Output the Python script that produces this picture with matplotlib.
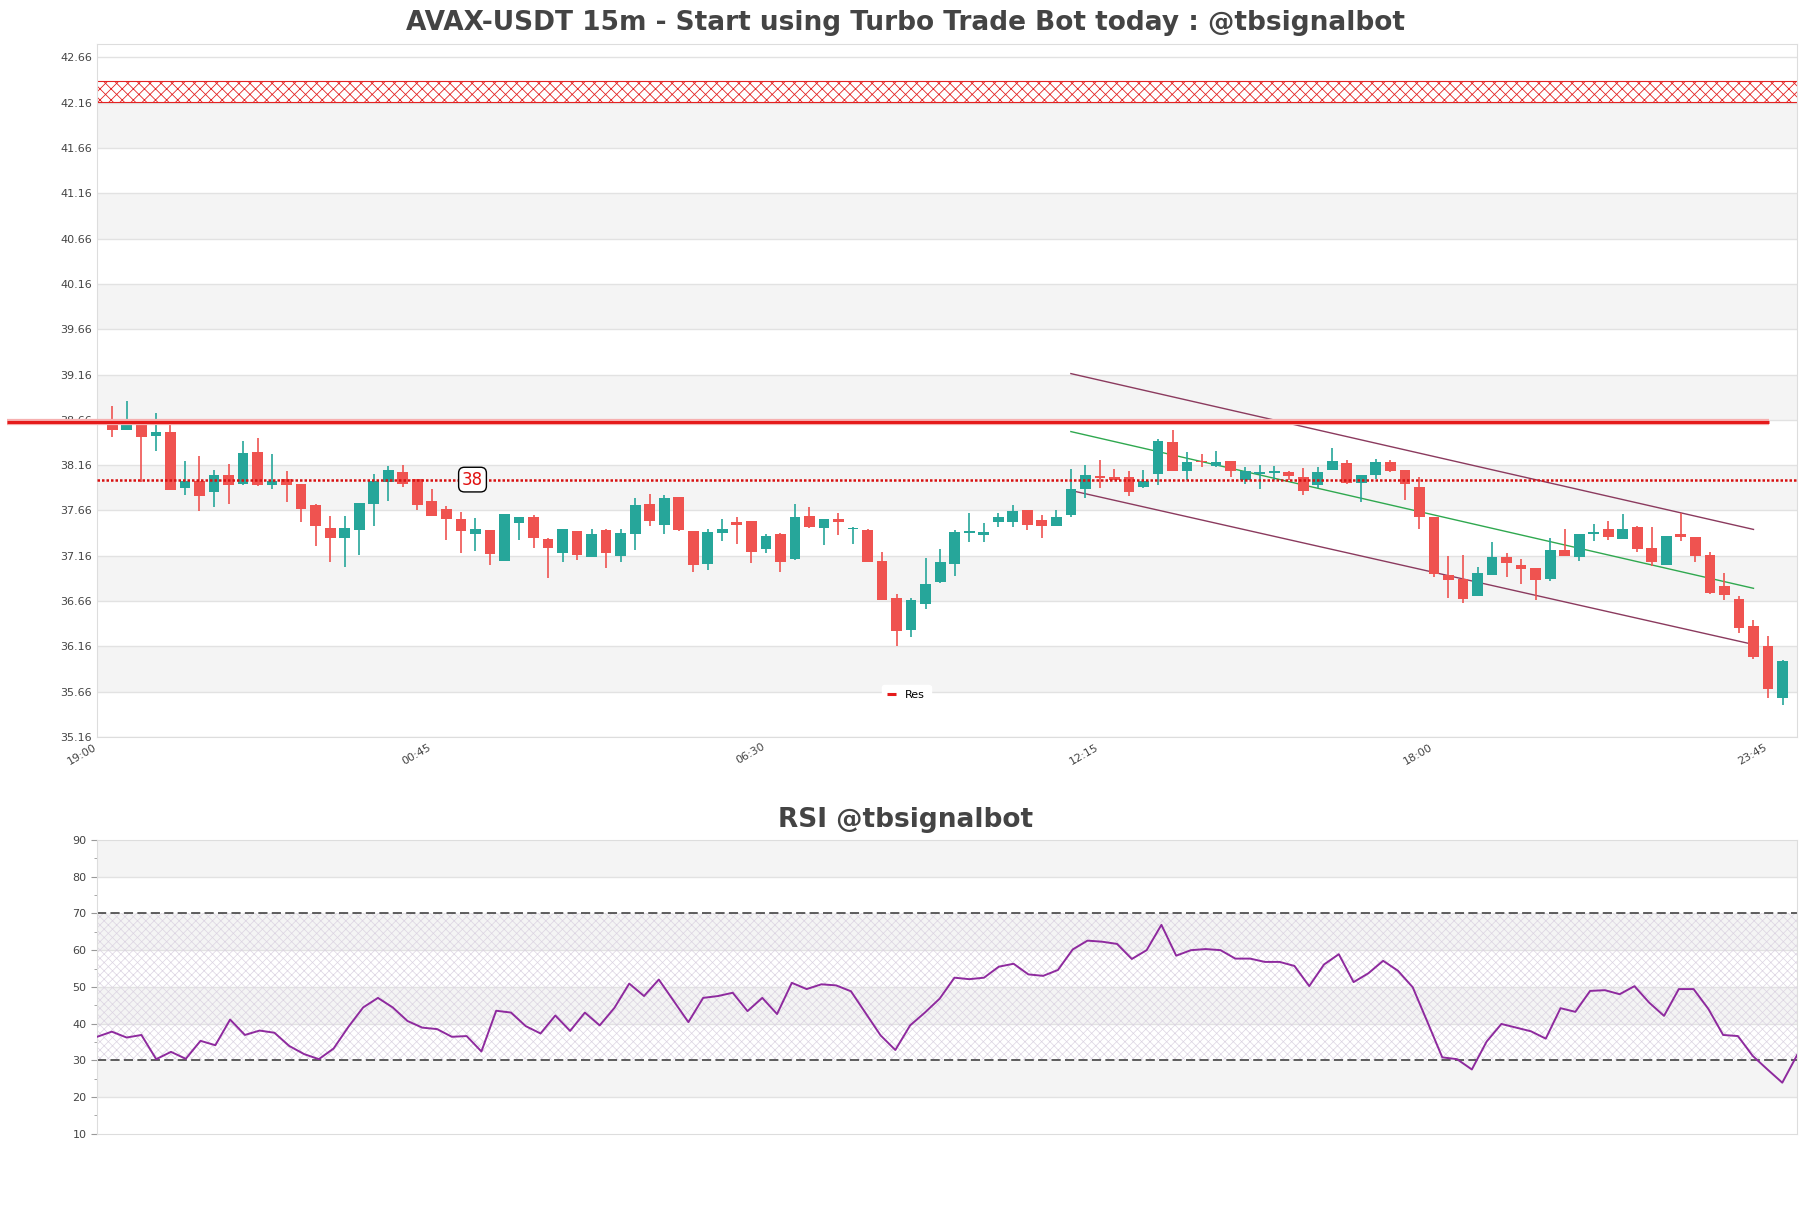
import matplotlib
matplotlib.use("Agg")
import matplotlib.pyplot as plt
import matplotlib.transforms as mtransforms
import numpy as np

# candle data, 15m
opens = [38.65, 38.55, 38.64, 38.48, 38.52, 37.91, 37.98, 37.86, 38.05, 37.95,
         38.30, 37.94, 38.01, 37.95, 37.72, 37.47, 37.35, 37.44, 37.73, 37.97,
         38.08, 38.01, 37.76, 37.67, 37.56, 37.40, 37.44, 37.10, 37.52, 37.59,
         37.34, 37.19, 37.43, 37.15, 37.44, 37.16, 37.40, 37.73, 37.50, 37.81,
         37.43, 37.07, 37.41, 37.53, 37.54, 37.23, 37.40, 37.12, 37.60, 37.47,
         37.56, 37.45, 37.44, 37.10, 36.69, 36.34, 36.63, 36.87, 37.07, 37.41,
         37.39, 37.53, 37.53, 37.66, 37.55, 37.49, 37.61, 37.90, 38.03, 38.03,
         38.03, 37.92, 38.06, 38.42, 38.09, 38.20, 38.15, 38.20, 38.00, 38.06,
         38.07, 38.08, 38.03, 37.94, 38.11, 38.18, 37.96, 38.05, 38.19, 38.11,
         37.92, 37.59, 36.95, 36.90, 36.72, 36.95, 37.15, 37.06, 37.02, 36.90,
         37.22, 37.15, 37.40, 37.45, 37.34, 37.48, 37.25, 37.06, 37.40, 37.37,
         37.17, 36.82, 36.68, 36.38, 36.16, 35.59]
highs = [38.81, 38.87, 38.65, 38.73, 38.61, 38.20, 38.26, 38.11, 38.17, 38.43,
         38.46, 38.28, 38.10, 37.95, 37.73, 37.60, 37.60, 37.74, 38.06, 38.15,
         38.16, 38.01, 37.90, 37.71, 37.64, 37.58, 37.44, 37.62, 37.59, 37.61,
         37.36, 37.46, 37.43, 37.46, 37.46, 37.45, 37.80, 37.84, 37.83, 37.81,
         37.43, 37.46, 37.57, 37.59, 37.54, 37.40, 37.41, 37.73, 37.70, 37.56,
         37.63, 37.48, 37.46, 37.20, 36.74, 36.69, 37.13, 37.23, 37.44, 37.63,
         37.52, 37.63, 37.72, 37.66, 37.61, 37.66, 38.12, 38.16, 38.22, 38.12,
         38.09, 38.11, 38.45, 38.55, 38.30, 38.28, 38.32, 38.21, 38.14, 38.16,
         38.15, 38.09, 38.13, 38.14, 38.35, 38.22, 38.05, 38.23, 38.22, 38.11,
         38.03, 37.59, 37.16, 37.17, 37.04, 37.31, 37.19, 37.12, 37.02, 37.35,
         37.45, 37.40, 37.51, 37.54, 37.62, 37.49, 37.48, 37.38, 37.63, 37.37,
         37.20, 36.97, 36.72, 36.45, 36.27, 36.01]
lows = [38.47, 38.55, 37.97, 38.32, 37.88, 37.83, 37.65, 37.70, 37.73, 37.94,
        37.93, 37.90, 37.75, 37.53, 37.27, 37.09, 37.04, 37.17, 37.49, 37.76,
        37.92, 37.66, 37.60, 37.33, 37.19, 37.21, 37.06, 37.10, 37.33, 37.24,
        36.91, 37.09, 37.11, 37.15, 37.02, 37.09, 37.22, 37.49, 37.40, 37.43,
        36.98, 37.00, 37.32, 37.29, 37.08, 37.19, 36.98, 37.11, 37.47, 37.28,
        37.39, 37.29, 37.09, 36.67, 36.16, 36.26, 36.57, 36.86, 36.94, 37.31,
        37.31, 37.48, 37.48, 37.44, 37.35, 37.49, 37.59, 37.80, 37.91, 38.00,
        37.82, 37.91, 37.94, 38.09, 38.00, 38.14, 38.14, 38.03, 37.95, 37.90,
        38.00, 38.00, 37.83, 37.91, 38.11, 37.95, 37.75, 38.01, 38.08, 37.77,
        37.45, 36.93, 36.69, 36.64, 36.72, 36.95, 36.92, 36.85, 36.67, 36.88,
        37.16, 37.10, 37.32, 37.33, 37.34, 37.20, 37.05, 37.06, 37.32, 37.09,
        36.74, 36.67, 36.31, 36.02, 35.59, 35.51]
closes = [38.55, 38.61, 38.47, 38.52, 37.89, 37.99, 37.82, 38.05, 37.94, 38.29,
          37.94, 37.99, 37.94, 37.68, 37.49, 37.35, 37.47, 37.74, 37.98, 38.11,
          37.95, 37.72, 37.60, 37.56, 37.43, 37.45, 37.18, 37.62, 37.59, 37.35,
          37.24, 37.45, 37.17, 37.40, 37.19, 37.41, 37.72, 37.54, 37.80, 37.44,
          37.06, 37.42, 37.45, 37.50, 37.20, 37.38, 37.09, 37.59, 37.48, 37.56,
          37.53, 37.46, 37.09, 36.67, 36.33, 36.67, 36.85, 37.09, 37.42, 37.42,
          37.42, 37.59, 37.65, 37.50, 37.49, 37.59, 37.90, 38.05, 38.02, 38.00,
          37.86, 37.99, 38.43, 38.09, 38.19, 38.19, 38.19, 38.09, 38.10, 38.07,
          38.08, 38.04, 37.87, 38.08, 38.20, 37.96, 38.05, 38.19, 38.09, 37.95,
          37.59, 36.96, 36.89, 36.68, 36.97, 37.15, 37.08, 37.01, 36.89, 37.22,
          37.16, 37.40, 37.41, 37.37, 37.46, 37.23, 37.09, 37.38, 37.37, 37.16,
          36.75, 36.73, 36.36, 36.04, 35.69, 36.00]

rsi = [36.4, 37.8, 36.2, 36.9, 30.3, 32.3, 30.4, 35.3, 34.1, 41.1,
       36.9, 38.1, 37.5, 33.9, 31.7, 30.3, 33.2, 39.1, 44.4, 47.0,
       44.4, 40.7, 38.9, 38.5, 36.4, 36.6, 32.4, 43.5, 43.0, 39.3,
       37.3, 42.2, 38.0, 43.0, 39.5, 44.3, 50.9, 47.5, 52.0, 46.2,
       40.4, 47.0, 47.5, 48.4, 43.4, 47.0, 42.6, 51.1, 49.4, 50.7,
       50.4, 48.8, 42.8, 36.8, 32.8, 39.5, 43.0, 46.8, 52.5, 52.1,
       52.5, 55.5, 56.3, 53.4, 53.0, 54.6, 60.2, 62.6, 62.3, 61.7,
       57.6, 60.0, 66.9, 58.5, 60.0, 60.3, 60.0, 57.7, 57.7, 56.8,
       56.8, 55.7, 50.2, 56.1, 58.9, 51.3, 53.7, 57.1, 54.4, 49.9,
       40.4, 30.8, 30.3, 27.5, 35.1, 39.9, 38.9, 37.9, 35.9, 44.2,
       43.2, 48.9, 49.1, 48.0, 50.2, 45.7, 42.1, 49.4, 49.4, 44.0,
       36.9, 36.6, 31.2, 27.5, 23.9, 31.4]

tick_idx = [0, 23, 46, 69, 92, 115]
tick_labels = ["19:00", "00:45", "06:30", "12:15", "18:00", "23:45"]

res_level = 38.64
sup_level = 38.00
zone = (42.17, 42.40)
# channel lines: (x0, y0, x1, y1)
chan_upper = (66, 39.17, 113, 37.45)
chan_mid = (66, 38.53, 113, 36.80)
chan_lower = (66, 37.88, 113, 36.18)

UP = "#26a69a"
DOWN = "#ef5350"
TXT = "#444444"

fig = plt.figure(figsize=(18.11, 12.08), dpi=100)
ax = fig.add_axes([0.0536, 0.390, 0.9387, 0.5737])
ax2 = fig.add_axes([0.0536, 0.0615, 0.9387, 0.2431])

# ---- price panel ----
ymin, ymax = 35.16, 42.81
yticks = np.round(np.arange(35.16, 42.70, 0.5), 2)
for k in range(7):
    ax.axhspan(35.66 + k, 36.16 + k, color="#f4f4f4", zorder=0, lw=0)
for t in yticks:
    ax.axhline(t, color="#e2e2e2", lw=1, zorder=0.5)

plt.rcParams["hatch.linewidth"] = 0.6
ax.fill_between([-5, 120], zone[0], zone[1], facecolor="white", edgecolor="#e32222",
                hatch="xxx", lw=0.8, zorder=1)

x = np.arange(len(opens))
for i in x:
    o, h, l, c = opens[i], highs[i], lows[i], closes[i]
    col = UP if c >= o else DOWN
    ax.vlines(i, l, h, color=col, lw=1.2, zorder=3)
    body = max(abs(c - o), 0.02)
    ax.bar(i, body, bottom=min(o, c), width=0.74, color=col, lw=0, zorder=4)

ax.plot([chan_upper[0], chan_upper[2]], [chan_upper[1], chan_upper[3]], color="#8b3a5e", lw=1, zorder=2)
ax.plot([chan_lower[0], chan_lower[2]], [chan_lower[1], chan_lower[3]], color="#8b3a5e", lw=1, zorder=2)
ax.plot([chan_mid[0], chan_mid[2]], [chan_mid[1], chan_mid[3]], color="#2fa84f", lw=1, zorder=2)

trans = mtransforms.blended_transform_factory(ax.transAxes, ax.transData)
ax.plot([-0.053, 0.9835], [res_level, res_level], transform=trans, color="#f6b0b0",
        lw=4.5, clip_on=False, zorder=4.5, solid_capstyle="butt")
ax.plot([-0.053, 0.9835], [res_level, res_level], transform=trans, color="#e51b1b",
        lw=2.2, clip_on=False, zorder=5, solid_capstyle="butt", label="Res")
ax.axhline(sup_level, color="#d81010", lw=1.8, ls=(0, (1, 0.8)), zorder=5)
ax.text(24.8, sup_level, "38", color="#e01010", fontsize=12, ha="center", va="center", zorder=6,
        bbox=dict(boxstyle="round,pad=0.2,rounding_size=0.35", fc="white", ec="black", lw=1))

ax.set_xlim(-1.05, 116.0)
ax.set_ylim(ymin, ymax)
ax.set_yticks(yticks)
ax.set_yticklabels([f"{t:.2f}" for t in yticks])
ax.set_xticks(tick_idx)
ax.set_xticklabels(tick_labels, rotation=30, ha="right")
ax.tick_params(axis="both", length=0, labelsize=8, labelcolor=TXT)
offset = mtransforms.ScaledTranslation(-0.14, 0, fig.dpi_scale_trans)
for lab in ax.get_xticklabels():
    lab.set_transform(lab.get_transform() + offset)
for sp in ax.spines.values():
    sp.set_color("#dddddd")

leg = ax.legend(loc="lower center", bbox_to_anchor=(0.476, 0.037), fontsize=8, frameon=True,
                framealpha=1, edgecolor="white", handlelength=0.8, borderpad=0.5)
leg.set_zorder(7)

fig.text(0.5, 1 - 23 / 1208, "AVAX-USDT 15m - Start using Turbo Trade Bot today : @tbsignalbot",
         ha="center", va="center", fontsize=19, fontweight="bold", color=TXT)

# ---- RSI panel ----
for lo in (20, 40, 60, 80):
    ax2.axhspan(lo, lo + 10, color="#f4f4f4", zorder=0, lw=0)
for t in (20, 40, 50, 60, 80):
    ax2.axhline(t, color="#e2e2e2", lw=1, zorder=0.5)
plt.rcParams["hatch.linewidth"] = 0.5
ax2.fill_between([-5, 120], 30, 70, facecolor="none", edgecolor="#dcd4e2", hatch="xxxx", lw=0, zorder=1)
ax2.axhline(70, color="#333333", lw=1.1, ls=(0, (6, 2.8)), zorder=2)
ax2.axhline(30, color="#333333", lw=1.1, ls=(0, (6, 2.8)), zorder=2)
ax2.plot(np.arange(len(rsi)), rsi, color="#8e2a9e", lw=1.4, zorder=3)

ax2.set_xlim(0, len(rsi) - 1)
ax2.set_ylim(10, 90)
ax2.set_yticks(range(10, 91, 10))
ax2.set_yticks(range(15, 90, 10), minor=True)
ax2.set_xticks([])
ax2.tick_params(axis="y", which="major", length=4, labelsize=8, labelcolor=TXT, color="#999999")
ax2.tick_params(axis="y", which="minor", length=2, color="#999999")
for sp in ax2.spines.values():
    sp.set_color("#dddddd")

fig.text(0.5, 1 - 820 / 1208, "RSI @tbsignalbot", ha="center", va="center",
         fontsize=19, fontweight="bold", color=TXT)

fig.savefig("out.png", dpi=100)
